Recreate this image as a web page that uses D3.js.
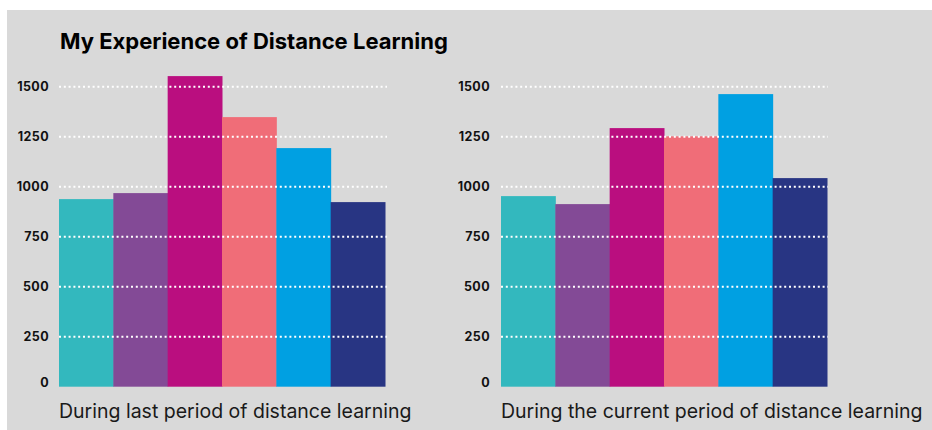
<!DOCTYPE html>
<html>
<head>
<meta charset="utf-8">
<script src="https://cdn.jsdelivr.net/npm/d3@7"></script>
<style>
  html, body { margin: 0; padding: 0; background: #ffffff; }
  svg { display: block; }
  text { font-family: Inter, "Open Sans", sans-serif; }
</style>
</head>
<body>
<svg id="chart" width="932" height="430"></svg>
<script>
// Responses per category, one bar each, in the same order as the colours
const categories = ["c1", "c2", "c3", "c4", "c5", "c6"];
const lastPeriod = [938, 968, 1553, 1348, 1193, 923];
const currentPeriod = [953, 913, 1293, 1252, 1463, 1043];
const barColors = ["#33B8BE", "#834A96", "#BA0E7F", "#F06D78", "#00A0E2", "#283583"];
const tickValues = [0, 250, 500, 750, 1000, 1250, 1500];
const panelTitles = ["During last period of distance learning", "During the current period of distance learning"];
const chartTitle = "My Experience of Distance Learning";

const svg = d3.select("#chart");

// grey card behind everything
svg.append("rect")
  .attr("x", 7).attr("y", 10)
  .attr("width", 925).attr("height", 420)
  .attr("fill", "#D9D9D9");

svg.append("text")
  .attr("x", 60).attr("y", 49)
  .attr("font-size", 22)
  .attr("font-weight", 700)
  .attr("fill", "#000")
  .text(chartTitle);

const y = d3.scaleLinear().domain([0, 1500]).range([386.7, 86.7]);

const panels = [
  { values: lastPeriod, x0: 59, x1: 385, gridEnd: 387, axisX: 49, title: panelTitles[0] },
  { values: currentPeriod, x0: 501, x1: 827, gridEnd: 828, axisX: 490, title: panelTitles[1] }
];

panels.forEach(p => {
  const x = d3.scaleBand().domain(categories).range([p.x0, p.x1]).padding(0);
  const g = svg.append("g");

  g.selectAll("rect.bar")
    .data(categories)
    .join("rect")
    .attr("class", "bar")
    .attr("x", d => x(d))
    .attr("width", x.bandwidth() + 0.5)
    .attr("y", (d, i) => y(p.values[i]))
    .attr("height", (d, i) => y(0) - y(p.values[i]))
    .attr("fill", (d, i) => barColors[i]);

  // dotted gridlines sit over the bars
  g.selectAll("line.grid")
    .data(tickValues.filter(t => t > 0))
    .join("line")
    .attr("class", "grid")
    .attr("x1", p.x0).attr("x2", p.gridEnd)
    .attr("y1", d => y(d)).attr("y2", d => y(d))
    .attr("stroke", "#ffffff")
    .attr("stroke-width", 2)
    .attr("stroke-dasharray", "2 2.8");

  const axis = g.append("g")
    .attr("transform", `translate(${p.axisX},0)`)
    .call(d3.axisLeft(y).tickValues(tickValues).tickFormat(d3.format("d")).tickSize(0).tickPadding(0));
  axis.select(".domain").remove();
  axis.selectAll("text")
    .attr("font-family", "Inter, 'Open Sans', sans-serif")
    .attr("font-size", 12.5)
    .attr("font-weight", 700)
    .attr("letter-spacing", 0.4)
    .attr("fill", "#111")
    .attr("dy", d => d === 0 ? "-0.05em" : "0.32em");

  g.append("text")
    .attr("x", p.x0).attr("y", 418)
    .attr("font-size", 19.5)
    .attr("fill", "#1a1a1a")
    .text(p.title);
});
</script>
</body>
</html>
